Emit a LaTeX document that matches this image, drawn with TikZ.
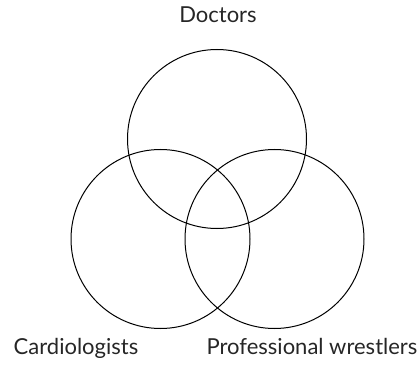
\documentclass[tikz,border=0pt]{standalone}
\usepackage{fontspec}
\setmainfont{Lato}
\begin{document}
\begin{tikzpicture}[x=1pt,y=1pt,
  set/.style={draw=black,line width=1pt,circle,minimum size=179pt,inner sep=0pt},
  lbl/.style={font=\fontsize{22}{26}\selectfont,text=black!85,anchor=base,inner sep=0pt}]
\useasboundingbox (0,0) rectangle (420,370);
\node[set] (doc) at (217,231) {};
\node[set] (card) at (160.5,131) {};
\node[set] (wrest) at (274.5,131) {};
\node[lbl] (tdoc) at (218,347) {Doctors};
\node[lbl] (tcard) at (76,16) {Cardiologists};
\node[lbl] (twrest) at (312,16) {Professional wrestlers};
\end{tikzpicture}
\end{document}
